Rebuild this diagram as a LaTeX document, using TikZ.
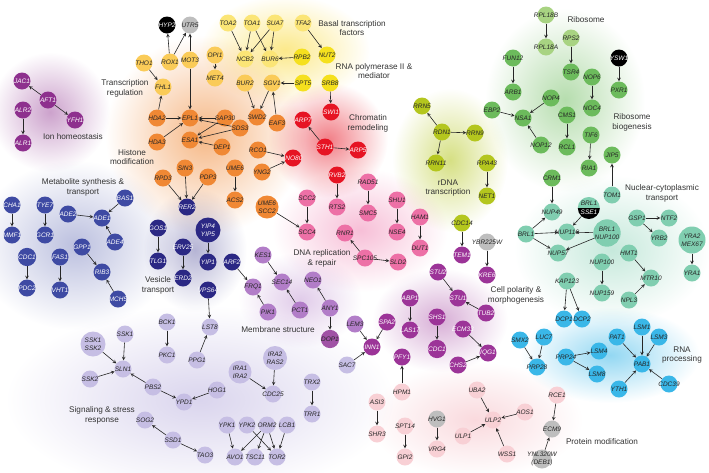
\documentclass[tikz,border=0pt]{standalone}
\usepackage{fontspec}
\setmainfont{Liberation Sans}
\usepackage{tikz}

\definecolor{ioncol}{RGB}{142,48,142}
\definecolor{tregcol}{RGB}{250,203,88}
\definecolor{basalcol}{RGB}{251,229,118}
\definecolor{polcol}{RGB}{245,224,30}
\definecolor{histcol}{RGB}{240,136,52}
\definecolor{chromcol}{RGB}{230,20,35}
\definecolor{dnacol}{RGB}{237,112,166}
\definecolor{rdnacol}{RGB}{180,198,30}
\definecolor{ribocol}{RGB}{168,211,130}
\definecolor{ribbcol}{RGB}{108,187,92}
\definecolor{nuccol}{RGB}{128,206,176}
\definecolor{rnacol}{RGB}{58,183,232}
\definecolor{protcol}{RGB}{248,208,213}
\definecolor{greycol}{RGB}{190,190,190}
\definecolor{metacol}{RGB}{62,74,163}
\definecolor{vescol}{RGB}{43,40,132}
\definecolor{memcol}{RGB}{178,125,200}
\definecolor{dopcol}{RGB}{160,82,165}
\definecolor{sigcol}{RGB}{198,190,228}
\definecolor{polarcol}{RGB}{156,52,152}

% gene name that may spill over its circle
\newcommand{\gname}[1]{\makebox[0pt]{#1}}

\begin{document}
\begin{tikzpicture}[x=1pt, y=-1pt,
  gene/.style={circle, inner sep=0pt, minimum size=17pt, text=black!85,
    font=\fontsize{6.5}{7.6}\selectfont\itshape},
  light/.style={gene, fill=#1},
  dark/.style={gene, fill=#1, text=white},
  duo/.style={align=center, minimum size=25pt},
  link/.style={-stealth, line width=0.6pt, black!85},
  group/.style={font=\fontsize{8.2}{9.8}\selectfont, align=center, text=black!80},
  glow/.style={inner color=#1, outer color=white, blend mode=multiply}
]
  \useasboundingbox (0,0) rectangle (709,472);

  % Soft glow behind each group
  \shade[glow=ioncol!45] (50,112) ellipse (60 and 60);
  \shade[glow=histcol!60] (205,135) ellipse (100 and 100);
  \shade[glow=basalcol!85] (285,50) ellipse (85 and 55);
  \shade[glow=chromcol!55] (328,140) ellipse (60 and 58);
  \shade[glow=dnacol!45] (360,230) ellipse (88 and 62);
  \shade[glow=rdnacol!55] (450,160) ellipse (58 and 72);
  \shade[glow=ribbcol!50] (565,100) ellipse (80 and 92);
  \shade[glow=nuccol!45] (612,250) ellipse (98 and 75);
  \shade[glow=rnacol!55] (610,355) ellipse (90 and 48);
  \shade[glow=metacol!35] (75,245) ellipse (100 and 85);
  \shade[glow=vescol!35] (195,250) ellipse (52 and 62);
  \shade[glow=sigcol!65] (200,400) ellipse (195 and 95);
  \shade[glow=memcol!40] (300,300) ellipse (62 and 48);
  \shade[glow=polarcol!40] (440,320) ellipse (68 and 52);
  \shade[glow=protcol!80] (475,420) ellipse (108 and 58);

  % Ion homeostasis
  \foreach \n/\x/\y in {JAC1/22/81, AFT1/48/100, ALR2/23/110, YFH1/75/120, ALR1/23/143}
    \node[dark=ioncol] (\n) at (\x,\y) {\gname{\n}};

  % Transcription regulation, basal factors, polymerase II
  \foreach \n/\x/\y in {THO1/144/63, ROX1/170/62, FHL1/163/87, MOT3/190/60, OPI1/215/55,
      MET4/215/78, BUR2/245/83, SGV1/272/83}
    \node[light=tregcol] (\n) at (\x,\y) {\gname{\n}};
  \foreach \n/\x/\y in {TOA2/228/23, TOA1/252/23, SUA7/275/23, TFA2/303/23, NCB2/245/59, BUR6/270/59}
    \node[light=basalcol] (\n) at (\x,\y) {\gname{\n}};
  \foreach \n/\x/\y in {RPB2/302/57, NUT2/327/55, SPT5/303/83, SRB8/330/83}
    \node[light=polcol] (\n) at (\x,\y) {\gname{\n}};

  % Histone modification
  \foreach \n/\x/\y in {HDA2/157/118, HDA3/157/142, EPL1/190/118, ESA1/190/140, SAP30/225/118,
      SDS3/240/128, DEP1/222/147, SWD2/257/117, EAF3/277/123, RCO1/258/150, RPD3/163/178,
      SIN3/185/168, PDP3/208/177, UME6/235/168, ACS2/235/200, YNG2/262/172}
    \node[light=histcol] (\n) at (\x,\y) {\gname{\n}};
  \node[light=histcol, duo, minimum size=23pt] (UME6SCC2) at (267,207) {UME6\\SCC2};

  % Chromatin remodeling
  \foreach \n/\x/\y in {SWI1/331/112, ARP7/303/120, STH1/325/147, ARP5/358/150, INO80/293/158, RVB2/337/175}
    \node[dark=chromcol] (\n) at (\x,\y) {\gname{\n}};

  % DNA replication and repair
  \foreach \n/\x/\y in {SCC2/307/198, SCC4/307/232, RTS2/337/207, RNR1/345/233, RAD51/368/182,
      SMC5/368/213, SHU1/397/200, NSE4/397/232, HAM1/420/217, DUT1/420/248, SPC105/365/258, SLD2/398/262}
    \node[light=dnacol] (\n) at (\x,\y) {\gname{\n}};

  % rDNA transcription
  \foreach \n/\x/\y in {RRN5/422/106, RDN1/442/132, RRN9/475/133, RRN11/436/163, RPA43/487/163,
      NET1/487/196, CDC14/462/223}
    \node[light=rdnacol] (\n) at (\x,\y) {\gname{\n}};

  % Ribosome and ribosome biogenesis
  \foreach \n/\x/\y in {RPL18B/546/15, RPL18A/546/47, RPS2/571/38}
    \node[light=ribocol] (\n) at (\x,\y) {\gname{\n}};
  \foreach \n/\x/\y in {TSR4/571/72, FUN12/513/58, ARB1/513/92, EBP2/492/110, NSA1/523/118,
      NOP4/551/98, NOP12/541/145, CMS1/567/115, RCL1/567/147, NOP6/592/77, NOC4/592/108,
      TIF6/591/135, RIA1/589/168, JIP5/612/155, PXR1/619/90, CRM1/552/178}
    \node[light=ribbcol] (\n) at (\x,\y) {\gname{\n}};

  % Nuclear-cytoplasmic transport
  \foreach \n/\x/\y in {BRL1/526/234, NUP49/552/212, NUP116/567/232, NUP57/558/253, NUP100/602/262,
      NUP159/602/293, KAP123/567/281, GSP1/637/218, NTF2/669/218, YRB2/659/238, YRA1/692/273,
      HMT1/629/253, MTR10/651/278, NPL3/629/300, TOM1/612/195}
    \node[light=nuccol] (\n) at (\x,\y) {\gname{\n}};
  \node[light=nuccol, duo, minimum size=26pt] (BRL1NUP100) at (607,233) {BRL1\\NUP100};
  \node[light=nuccol, duo, minimum size=27pt] (YRA2MEX67) at (692,240) {YRA2\\MEX67};
  % half teal, half black node
  \node[gene, minimum size=22pt] (BRL1SSE1) at (589,208) {};
  \fill[nuccol] (BRL1SSE1.west) arc[start angle=180, end angle=0, radius=11pt] -- cycle;
  \fill[black] (BRL1SSE1.west) arc[start angle=180, end angle=360, radius=11pt] -- cycle;
  \node[gene, minimum size=0pt] (BRL1top) at ([yshift=4.3pt]BRL1SSE1.center) {BRL1};
  \node[gene, minimum size=0pt, text=white] (SSE1bot) at ([yshift=-4.3pt]BRL1SSE1.center) {SSE1};

  % RNA processing
  \foreach \n/\x/\y in {SMX2/520/340, LUC7/544/337, PRP28/537/367, DCP1/564/319, DCP2/582/319,
      PRP24/566/357, LSM4/599/351, LSM8/597/374, PAT1/617/337, LSM1/642/327, LSM3/659/337,
      PAB1/642/364, YTH1/619/389, CDC39/669/384}
    \node[light=rnacol] (\n) at (\x,\y) {\gname{\n}};

  % Protein modification
  \foreach \n/\x/\y in {RCE1/557/395, HPM1/402/392, ASI3/377/402, SHR3/377/434, SPT14/405/426,
      GPI2/405/457, VRG4/437/449, UBA2/477/390, ULP2/493/420, ULP1/463/436, AOS1/525/412, WSS1/507/454}
    \node[light=protcol] (\n) at (\x,\y) {\gname{\n}};

  % Unassigned and grey nodes
  \foreach \n/\x/\y in {UTR5/190/25, YBR225W/487/242, HVG1/437/419, ECM9/552/429}
    \node[light=greycol] (\n) at (\x,\y) {\gname{\n}};
  \node[light=greycol, minimum size=19pt] (YNL320W) at (542,459) {};
  \node[gene, minimum size=0pt, align=center] (DEB1txt) at (YNL320W) {YNL320W\\(DEB1)};
  \foreach \n/\x/\y in {HYP2/167/25, YSW1/619/58}
    \node[dark=black] (\n) at (\x,\y) {\gname{\n}};

  % Cell polarity and morphogenesis
  \foreach \n/\x/\y in {STU2/438/272, STU1/458/298, TUB2/486/313, TEM1/462/255, KRE6/487/275,
      ABP1/410/298, LAS17/410/330, SHS1/437/317, ECM33/463/329, IQG1/488/353,
      CHS2/458/365, PFY1/402/357, SPA2/387/322, INN1/372/347}
    \node[dark=polarcol] (\n) at (\x,\y) {\gname{\n}};
  \node[dark=polarcol] (CDC1p) at (437,349) {CDC1};

  % Membrane structure
  \foreach \n/\x/\y in {KES1/263/255, SEC14/282/282, FRQ1/253/287, PIK1/268/312, PCT1/300/310,
      NEO1/313/280, ANY1/330/308, LEM3/355/324}
    \node[light=memcol] (\n) at (\x,\y) {\gname{\n}};
  \node[light=dopcol] (DOP1) at (330,339) {DOP1};

  % Vesicle transport
  \foreach \n/\x/\y in {GOS1/158/228, TLG1/158/261, RER2/187/207, YIP1/208/262, ERV25/183/247,
      ERD2/183/278, ARF2/232/262, VPS64/208/290}
    \node[dark=vescol] (\n) at (\x,\y) {\gname{\n}};
  \node[dark=vescol, duo] (YIP4YIP5) at (208,230) {YIP4\\YIP5};

  % Metabolite synthesis and transport
  \foreach \n/\x/\y in {CHA1/12/205, MMF1/12/235, TYE7/45/205, GCR1/45/235,
      PDC2/27/288, FAS1/60/257, VHT1/60/290, ADE2/68/214, ADE1/102/218, BAS1/125/198,
      ADE4/115/242, GPP1/82/247, RIB3/102/272, MCH5/118/299}
    \node[dark=metacol] (\n) at (\x,\y) {\gname{\n}};
  \node[dark=metacol] (CDC1m) at (27,257) {CDC1};

  % Signaling and stress response
  \foreach \n/\x/\y in {SSK1/125/334, SLN1/123/369, SSK2/90/379, PBS2/153/387, YPD1/184/402,
      HOG1/217/390, BCK1/167/322, PKC1/167/355, LST8/210/327, PPG1/197/360, SOG2/145/420,
      SSD1/173/440, TAO3/205/455, CDC25/273/394, TRX2/312/382, TRR1/312/414, YPK1/227/425,
      YPK2/247/425, ORM2/267/425, LCB1/287/425, AVO1/235/457, TSC11/255/457, TOR2/277/457, SAC7/347/365}
    \node[light=sigcol] (\n) at (\x,\y) {\gname{\n}};
  \node[light=sigcol, duo] (SSK1SSK2) at (93,344) {SSK1\\SSK2};
  \node[light=sigcol, duo, minimum size=23pt] (IRA1IRA2) at (240,372) {IRA1\\IRA2};
  \node[light=sigcol, duo, minimum size=24pt] (IRA2RAS2) at (275,358) {IRA2\\RAS2};

  % Interactions
  \foreach \a/\b in {AFT1/JAC1, AFT1/YFH1, ALR2/ALR1, ROX1/HYP2, ROX1/UTR5, MOT3/UTR5,
      THO1/FHL1, HDA2/FHL1, MOT3/EPL1, OPI1/MET4, SPT5/SGV1, BUR2/SWD2, SGV1/SWD2, EAF3/SGV1,
      TOA2/NCB2, TOA1/NCB2, TOA1/BUR6, SUA7/NCB2, SUA7/BUR6, RPB2/BUR6, TFA2/NUT2, SRB8/SWI1,
      HDA2/EPL1, HDA3/EPL1, SAP30/EPL1, SDS3/EPL1, SAP30/ESA1, SDS3/ESA1, DEP1/ESA1,
      RCO1/INO80, YNG2/INO80, RPD3/RER2, SIN3/RER2, PDP3/RER2, UME6/ACS2, UME6SCC2/SCC4,
      STH1/ARP7, STH1/ARP5, RVB2/RTS2, SCC2/SCC4, RAD51/SMC5, SHU1/NSE4, HAM1/DUT1,
      SPC105/SLD2, SPC105/RNR1, RDN1/RRN5, RDN1/RRN9, RDN1/RRN11, RPA43/NET1, CDC14/TEM1}
    \draw[link] (\a) -- (\b);
  \foreach \a/\b in {RPL18B/RPL18A, RPS2/TSR4, FUN12/ARB1, EBP2/NSA1, NOP4/NSA1, NOP12/NSA1,
      CMS1/RCL1, NOP6/NOC4, TIF6/RIA1, YSW1/PXR1, TOM1/JIP5, CRM1/NUP49, BRL1/NUP49,
      BRL1/NUP116, BRL1/NUP57, BRL1SSE1/NUP116, BRL1NUP100/NUP116, BRL1NUP100/NUP57,
      NUP100/NUP159, GSP1/NTF2, GSP1/YRB2, YRA2MEX67/YRA1, HMT1/MTR10, NPL3/MTR10,
      KAP123/DCP1, KAP123/DCP2, SMX2/PRP28, LUC7/PRP28, PRP24/LSM4, PRP24/LSM8, PAT1/PAB1,
      LSM1/PAB1, LSM3/PAB1, YTH1/PAB1, CDC39/PAB1, RCE1/ECM9, YNL320W/ECM9}
    \draw[link] (\a) -- (\b);
  \foreach \a/\b in {HPM1/PFY1, ASI3/SHR3, SPT14/GPI2, HVG1/VRG4, UBA2/ULP2, AOS1/ULP2,
      ULP1/ULP2, WSS1/ULP2, STU2/STU1, TUB2/STU1, ABP1/LAS17, SHS1/CDC1p, ECM33/IQG1,
      CHS2/IQG1, SPA2/INN1, LEM3/INN1, SAC7/INN1, YBR225W/KRE6, KES1/SEC14, PCT1/SEC14,
      PIK1/FRQ1, ARF2/FRQ1, ANY1/NEO1, ANY1/DOP1, GOS1/TLG1, YIP4YIP5/YIP1, ERV25/ERD2,
      VPS64/LST8, CHA1/MMF1, TYE7/GCR1, CDC1m/PDC2, FAS1/VHT1, ADE2/ADE1, BAS1/ADE1,
      ADE4/ADE1, GPP1/RIB3, MCH5/RIB3}
    \draw[link] (\a) -- (\b);
  \foreach \a/\b in {SSK1SSK2/SLN1, SSK1/SLN1, SSK2/SLN1, PBS2/SLN1, PBS2/YPD1, HOG1/YPD1,
      BCK1/PKC1, PPG1/LST8, SSD1/SOG2, SSD1/TAO3, IRA1IRA2/CDC25, IRA2RAS2/CDC25, TRX2/TRR1,
      YPK1/AVO1, YPK2/TOR2, ORM2/AVO1, ORM2/TSC11, ORM2/TOR2, LCB1/TOR2}
    \draw[link] (\a) -- (\b);

  % Group labels
  \node[group] (lblion) at (73,137) {Ion homeostasis};
  \node[group] (lbltreg) at (125,88) {Transcription\\regulation};
  \node[group] (lblhist) at (132,157) {Histone\\modification};
  \node[group] (lblbasal) at (352,28) {Basal transcription\\factors};
  \node[group] (lblpol) at (374,71) {RNA polymerase II \&\\mediator};
  \node[group] (lblchrom) at (368,123) {Chromatin\\remodeling};
  \node[group] (lblrdna) at (448,188) {rDNA\\transcription};
  \node[group] (lblribo) at (586,20) {Ribosome};
  \node[group] (lblribb) at (632,122) {Ribosome\\biogenesis};
  \node[group] (lblnuc) at (662,193) {Nuclear-cytoplasmic\\transport};
  \node[group] (lblmeta) at (83,187) {Metabolite synthesis \&\\transport};
  \node[group] (lblves) at (158,285) {Vesicle\\transport};
  \node[group] (lbldna) at (322,258) {DNA replication\\\& repair};
  \node[group] (lblmem) at (278,330) {Membrane structure};
  \node[group] (lblpolar) at (516,295) {Cell polarity \&\\morphogenesis};
  \node[group] (lblrna) at (682,355) {RNA\\processing};
  \node[group] (lblprot) at (602,442) {Protein modification};
  \node[group] (lblsig) at (102,415) {Signaling \& stress\\response};
\end{tikzpicture}
\end{document}
